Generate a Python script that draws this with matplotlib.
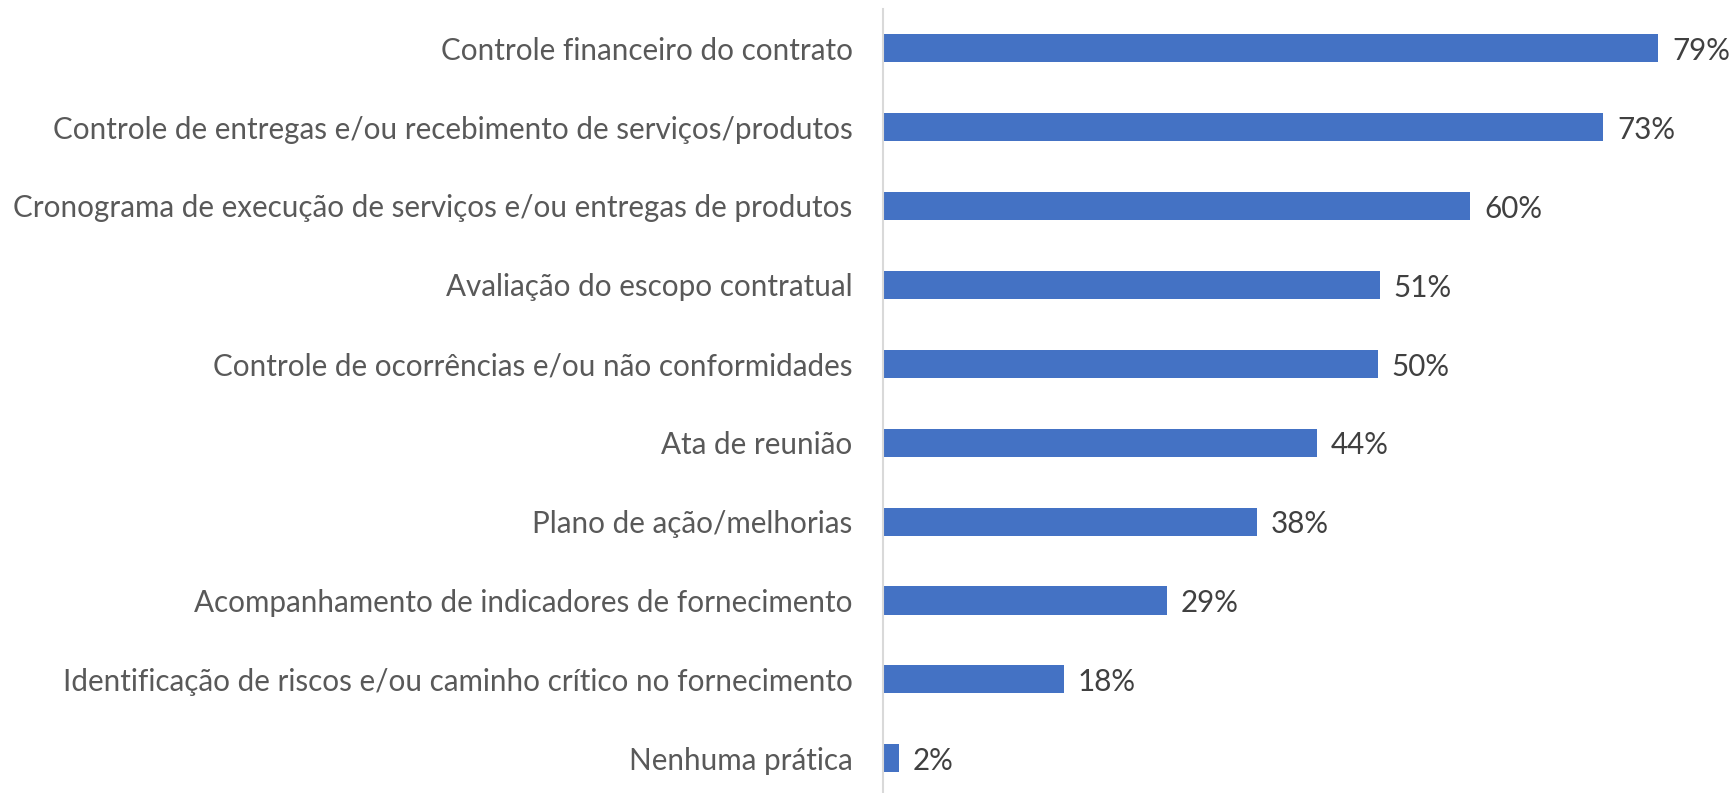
import matplotlib
matplotlib.use("Agg")
import matplotlib.pyplot as plt

categories = [
    "Controle financeiro do contrato",
    "Controle de entregas e/ou recebimento de serviços/produtos",
    "Cronograma de execução de serviços e/ou entregas de produtos",
    "Avaliação do escopo contratual",
    "Controle de ocorrências e/ou não conformidades",
    "Ata de reunião",
    "Plano de ação/melhorias",
    "Acompanhamento de indicadores de fornecimento",
    "Identificação de riscos e/ou caminho crítico no fornecimento",
    "Nenhuma prática",
]
values = [79.0, 73.4, 59.8, 50.6, 50.4, 44.2, 38.1, 28.9, 18.4, 1.6]

BAR_COLOR = "#4472C4"
plt.rcParams["font.family"] = ["Lato", "DejaVu Sans"]

fig = plt.figure(figsize=(17.35, 7.93), dpi=100)
ax = fig.add_axes([0.509, -0.006, 0.491, 0.995])

y = list(range(len(categories)))
ax.barh(y, values, height=0.355, color=BAR_COLOR)
for yi, v in zip(y, values):
    ax.annotate(f"{v:.0f}%", (v, yi), xytext=(10, -2), textcoords="offset points",
                ha="left", va="center", fontsize=21.3, color="#404040")

ax.set_xlim(0, 86.8)
ax.set_ylim(len(categories) - 0.5, -0.5)
ax.set_yticks(y)
ax.set_yticklabels(categories, fontsize=21.3, color="#595959")
ax.tick_params(axis="y", length=0, pad=22)
ax.set_xticks([])
for side in ["top", "right", "bottom"]:
    ax.spines[side].set_visible(False)
ax.spines["left"].set_color("#d9d9d9")
ax.spines["left"].set_linewidth(1.5)

fig.savefig("out.png", dpi=100)
